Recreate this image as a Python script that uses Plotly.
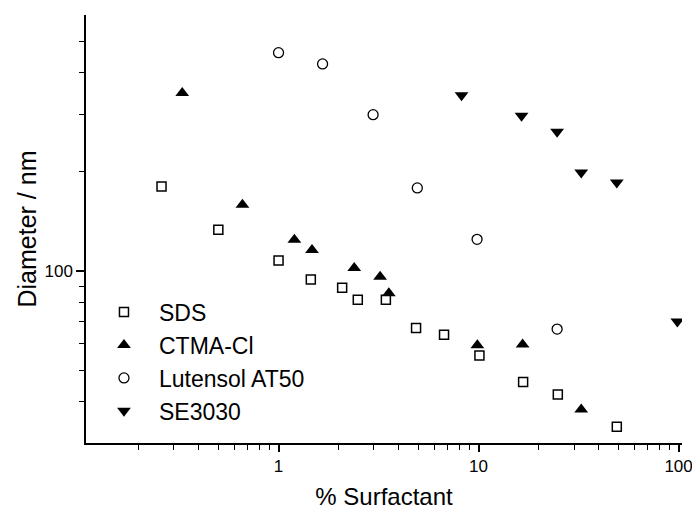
import numpy as np
import plotly.graph_objects as go

# Surfactant concentration (%) and particle diameter (nm) per surfactant
sds_x = [0.26, 0.5, 1.0, 1.45, 2.08, 2.49, 3.44, 4.87, 6.72, 10.1, 16.7, 24.9, 49.1]
sds_y = [180.6, 133.4, 107.6, 94.2, 88.9, 81.8, 81.8, 67.1, 64.0, 55.3, 46.0, 42.1, 33.6]

ctma_x = [0.33, 0.66, 1.2, 1.47, 2.39, 3.22, 3.56, 9.86, 16.6, 32.6]
ctma_y = [347.3, 159.1, 124.5, 115.8, 102.1, 96.1, 85.5, 59.5, 59.8, 37.9]

lut_x = [1.0, 1.66, 2.97, 4.94, 9.83, 24.7]
lut_y = [461, 426, 298.7, 178.9, 124.8, 66.6]

se_x = [8.22, 16.4, 24.7, 32.6, 49.1, 98.6]
se_y = [342.4, 296.5, 265.1, 199.4, 185.9, 70.2]

x_major = [1, 10, 100]
x_major_text = ["1", "10", "100"]
x_minor = [0.2, 0.3, 0.4, 0.5, 0.6, 0.7, 0.8, 0.9,
           2, 3, 4, 5, 6, 7, 8, 9,
           20, 30, 40, 50, 60, 70, 80, 90]
y_major = [100]
y_major_text = ["100"]
y_minor = [40, 50, 60, 70, 80, 90, 200, 300, 400, 500]

FONT = "Liberation Sans, Arial, sans-serif"

fig = go.Figure()

series = [
    ("SDS", sds_x, sds_y, dict(symbol="square-open", size=9, color="black",
                                line=dict(width=1.5, color="black"))),
    ("CTMA-Cl", ctma_x, ctma_y, dict(symbol="triangle-up", size=12, color="black",
                                      line=dict(width=0))),
    ("Lutensol AT50", lut_x, lut_y, dict(symbol="circle-open", size=10, color="black",
                                          line=dict(width=1.3, color="black"))),
    ("SE3030", se_x, se_y, dict(symbol="triangle-down", size=12, color="black",
                                 line=dict(width=0))),
]

for i, (name, xs, ys, mk) in enumerate(series):
    fig.add_trace(go.Scatter(x=xs, y=ys, mode="markers", name=name,
                             legendgroup=f"g{i}", marker=mk))

fig.update_layout(
    width=692, height=510,
    margin=dict(l=86, r=10, t=15, b=67, autoexpand=False),
    paper_bgcolor="white", plot_bgcolor="white",
    font=dict(family=FONT, color="black", size=17),
    showlegend=True,
    legend=dict(x=0.005, y=0.356, xanchor="left", yanchor="top",
                bgcolor="rgba(0,0,0,0)", borderwidth=0,
                font=dict(family=FONT, size=23, color="black"),
                traceorder="grouped", tracegroupgap=0, itemwidth=60),
    xaxis=dict(
        type="log", range=[np.log10(0.109), np.log10(104)],
        automargin=False,
        showgrid=False, zeroline=False,
        showline=True, linecolor="black", linewidth=1.5,
        ticks="outside", ticklen=7, tickwidth=1.5, tickcolor="black",
        tickvals=x_major, ticktext=x_major_text,
        tickfont=dict(size=17), ticklabeloverflow="allow",
        minor=dict(tickvals=x_minor, ticks="outside", ticklen=5,
                   tickwidth=1.3, tickcolor="black", showgrid=False),
        title=dict(text="% Surfactant", font=dict(size=24), standoff=15),
    ),
    yaxis=dict(
        type="log", range=[np.log10(30), np.log10(600)],
        automargin=False,
        showgrid=False, zeroline=False,
        showline=True, linecolor="black", linewidth=1.5,
        ticks="outside", ticklen=8, tickwidth=1.5, tickcolor="black",
        tickvals=y_major, ticktext=y_major_text,
        tickfont=dict(size=17),
        minor=dict(tickvals=y_minor, ticks="outside", ticklen=5,
                   tickwidth=1.3, tickcolor="black", showgrid=False),
        title=dict(text="Diameter / nm", font=dict(size=25), standoff=1),
    ),
)

fig.write_html("out.html")
